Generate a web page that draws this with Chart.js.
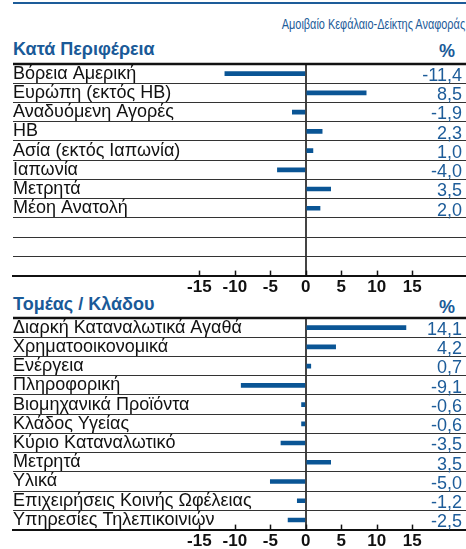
<!DOCTYPE html>
<html lang="el">
<head>
<meta charset="utf-8">
<title>Κατανομή ανά Περιφέρεια και Τομέα</title>
<script src="https://cdn.jsdelivr.net/npm/chart.js@4.4.1/dist/chart.umd.min.js"></script>
<style>
  body { margin: 0; background: #fff; width: 466px; height: 549px; overflow: hidden; position: relative;
         font-family: "Liberation Sans", Arial, sans-serif; }
  canvas { position: absolute; left: 0; }
  #chartTop { top: 0; }
  #chartBottom { top: 290px; }
  .rule { position: absolute; left: 13px; right: 0; top: 2px; height: 2px; background: #1d5c99; }
  .head { position: absolute; color: #1a5a98; font-weight: bold; font-size: 18px; line-height: 18px; white-space: nowrap; }
  .sub { position: absolute; right: 1px; top: 17px; color: #1d5c99; font-size: 14px; line-height: 14px;
         white-space: nowrap; transform: scaleX(0.78); transform-origin: right center; }
</style>
</head>
<body>
<div class="rule"></div>
<div class="sub">Αμοιβαίο Κεφάλαιο-Δείκτης Αναφοράς</div>
<div class="head" style="left:13px; top:40px;">Κατά Περιφέρεια</div>
<div class="head" style="left:439px; top:42px;">%</div>
<div class="head" style="left:13px; top:295px;">Τομέας / Κλάδου</div>
<div class="head" style="left:439px; top:298px;">%</div>

<canvas id="chartTop" width="466" height="300"></canvas>
<canvas id="chartBottom" width="466" height="264"></canvas>

<script>
// Δεδομένα: κατά περιφέρεια (3 κενές γραμμές στο τέλος)
const regionLabels = ["Βόρεια Αμερική", "Ευρώπη (εκτός ΗΒ)", "Αναδυόμενη Αγορές", "ΗΒ",
  "Ασία (εκτός Ιαπωνία)", "Ιαπωνία", "Μετρητά", "Μέοη Ανατολή", "", "", ""];
const regionValues = [-11.4, 8.5, -1.9, 2.3, 1.0, -4.0, 3.5, 2.0, null, null, null];

// Δεδομένα: κατά τομέα / κλάδο
const sectorLabels = ["Διαρκή Καταναλωτικά Αγαθά", "Χρηματοοικονομικά", "Ενέργεια", "Πληροφορική",
  "Βιομηχανικά Προϊόντα", "Κλάδος Υγείας", "Κύριο Καταναλωτικό", "Μετρητά", "Υλικά",
  "Επιχειρήσεις Κοινής Ωφέλειας", "Υπηρεσίες Τηλεπικοινιών"];
const sectorValues = [14.1, 4.2, 0.7, -9.1, -0.6, -0.6, -3.5, 3.5, -5.0, -1.2, -2.5];

const tickValues = [-15, -10, -5, 0, 5, 10, 15];

const FONT = "'Liberation Sans', Arial, sans-serif";
const BLUE = "#0a5595";

// Παχιά γραμμή πάνω, μικρές γραμμές κλίμακας και τιμές δεξιά
const rowsPlugin = {
  id: "rows",
  afterDraw(chart) {
    const ctx = chart.ctx;
    const area = chart.chartArea;
    const x = chart.scales.x;
    const y = chart.scales.y;

    ctx.save();
    ctx.strokeStyle = "#111";
    ctx.lineWidth = 2.5;
    ctx.beginPath();
    ctx.moveTo(area.left, area.top);
    ctx.lineTo(area.right, area.top);
    ctx.stroke();

    ctx.lineWidth = 1.5;
    x.ticks.forEach(t => {
      const px = Math.round(x.getPixelForValue(t.value)) + 0.5;
      ctx.beginPath();
      ctx.moveTo(px, area.bottom - 5);
      ctx.lineTo(px, area.bottom);
      ctx.stroke();
    });

    ctx.fillStyle = "#1d5c99";
    ctx.font = "18px " + FONT;
    ctx.textAlign = "right";
    ctx.textBaseline = "alphabetic";
    chart.data.datasets[0].data.forEach((v, i) => {
      if (v === null) return;
      ctx.fillText(v.toFixed(1).replace(".", ","), 462, y.getPixelForValue(i) + 7.3);
    });
    ctx.restore();
  }
};

function makeChart(id, labels, values, padTop) {
  return new Chart(document.getElementById(id), {
    type: "bar",
    data: {
      labels,
      datasets: [{
        data: values,
        backgroundColor: BLUE,
        borderWidth: 0,
        barThickness: 4
      }]
    },
    options: {
      indexAxis: "y",
      responsive: false,
      animation: false,
      layout: { padding: { left: 13, right: 0, top: padTop, bottom: 0 } },
      plugins: { legend: { display: false }, tooltip: { enabled: false } },
      scales: {
        x: {
          type: "linear",
          min: -41.24,
          max: 22.56,
          afterBuildTicks: scale => { scale.ticks = tickValues.map(v => ({ value: v })); },
          grid: {
            color: c => (c.tick && c.tick.value === 0 ? "#444" : "rgba(0,0,0,0)"),
            lineWidth: 2,
            drawTicks: false
          },
          border: { display: true, color: "#111", width: 2 },
          ticks: {
            autoSkip: false,
            maxRotation: 0,
            padding: 2,
            color: "#111",
            font: { family: FONT, size: 17, weight: "bold" },
            callback: v => String(v)
          }
        },
        y: {
          grid: { color: "#333", lineWidth: 1, drawTicks: false, offset: true },
          border: { display: false },
          ticks: {
            mirror: true,
            autoSkip: false,
            padding: 0,
            color: "#111",
            font: { family: FONT, size: 18 }
          }
        }
      }
    },
    plugins: [rowsPlugin]
  });
}

makeChart("chartTop", regionLabels, regionValues, 64);
makeChart("chartBottom", sectorLabels, sectorValues, 28);
</script>
</body>
</html>
